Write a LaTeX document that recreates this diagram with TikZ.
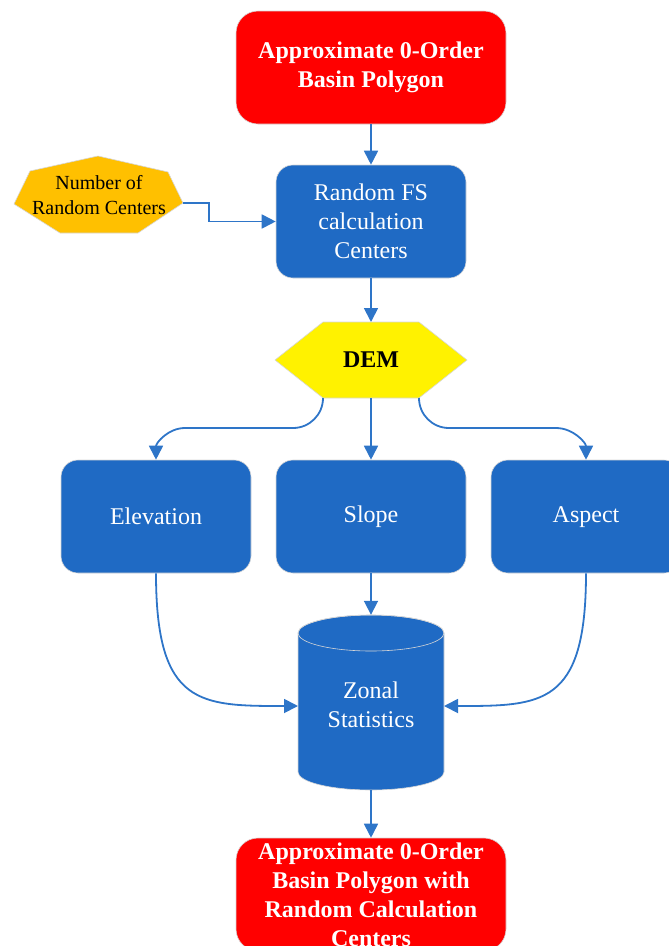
\documentclass[tikz,border=0pt]{standalone}
\usepackage{fontspec}
\setmainfont{Liberation Serif}
\usetikzlibrary{arrows.meta}
\definecolor{boxblue}{RGB}{31,106,196}
\definecolor{arrblue}{RGB}{46,117,200}
\definecolor{heptorange}{RGB}{255,192,0}
\definecolor{rednode}{RGB}{255,0,0}
\definecolor{edgegray}{RGB}{215,215,215}
\begin{document}
\begin{tikzpicture}[x=1pt,y=-1pt,
  bluebox/.style={draw=edgegray,line width=0.6pt,fill=boxblue,rounded corners=17pt,
    minimum width=190pt,minimum height=113pt,inner sep=0pt,text=white,
    font=\fontsize{24}{29}\selectfont,align=center},
  redbox/.style={draw=edgegray,line width=0.6pt,fill=rednode,rounded corners=22pt,
    minimum width=270pt,minimum height=113pt,inner sep=0pt,text=white,
    font=\fontsize{24}{29}\selectfont\bfseries,align=center},
  conn/.style={draw=arrblue,line width=1.8pt,-{Triangle[length=14pt,width=14pt]}},
  shapeedge/.style={draw=edgegray,line width=0.6pt},
]
\useasboundingbox (0,0) rectangle (669,946);
\clip (0,0) rectangle (669,946);

% top red box
\node[redbox] (top) at (371,67.5) {Approximate 0-Order\\Basin Polygon};

% Random FS box
\node[bluebox] (rfs) at (371,221.5) {Random FS\\calculation\\Centers};

% heptagon
\path[fill=heptorange,shapeedge] (30,171) -- (98,156) -- (168,172) -- (183,203) coordinate (hR)
  -- (138,233) -- (60,233) -- (14,204) -- cycle;
\node[font=\fontsize{20}{25}\selectfont,align=center,inner sep=0pt] (hept) at (99,195) {Number of\\Random Centers};

% DEM hexagon
\path[fill=yellow,shapeedge] (323,322) -- (419,322) -- (467,360) -- (419,398) coordinate (dbr)
  -- (323,398) coordinate (dbl) -- (275,360) -- cycle;
\coordinate (dtop) at (371,322);
\coordinate (dbot) at (371,398);
\node[font=\fontsize{24}{29}\selectfont\bfseries] (dem) at (371,360) {DEM};

% three blue boxes
\node[bluebox] (elev) at (156,516.5) {Elevation};
\node[bluebox] (slope) at (371,516.5) {\strut Slope};
\node[bluebox] (aspect) at (586,516.5) {\strut Aspect};

% cylinder
\path[fill=boxblue,shapeedge] (298,633) -- (298,772)
  arc[start angle=180,end angle=0,x radius=73,y radius=18]
  -- (444,633) arc[start angle=0,end angle=-180,x radius=73,y radius=18] -- cycle;
\draw[edgegray,line width=0.6pt] (371,633) ellipse [x radius=73,y radius=18];
\node[minimum width=146pt,minimum height=175pt,inner sep=0pt] (zs) at (371,702.5) {};
\node[text=white,font=\fontsize{24}{29}\selectfont,align=center] (zstext) at (371,705) {Zonal\\Statistics};
\coordinate (zsW) at (298,706);
\coordinate (zsE) at (444,706);

% bottom red box
\node[redbox] (bot) at (371,894.5) {Approximate 0-Order\\Basin Polygon with\\Random Calculation\\Centers};

% connectors
\draw[conn] (top.south) -- (rfs.north);
\draw[conn] (hR) -- ++(26,0) |- (rfs.west);
\draw[conn] (rfs.south) -- (dtop);
\draw[conn] (dbl) to[out=-90,in=0] (293,428) -- (185,428) to[out=180,in=90] (elev.north);
\draw[conn] (dbot) -- (slope.north);
\draw[conn] (dbr) to[out=-90,in=180] (449,428) -- (556,428) to[out=0,in=90] (aspect.north);
\draw[conn] (slope.south) -- (zs.north);
\draw[conn] (elev.south) .. controls (156,706) and (200,706) .. (zsW);
\draw[conn] (aspect.south) .. controls (586,706) and (542,706) .. (zsE);
\draw[conn] (zs.south) -- (bot.north);
\end{tikzpicture}
\end{document}
